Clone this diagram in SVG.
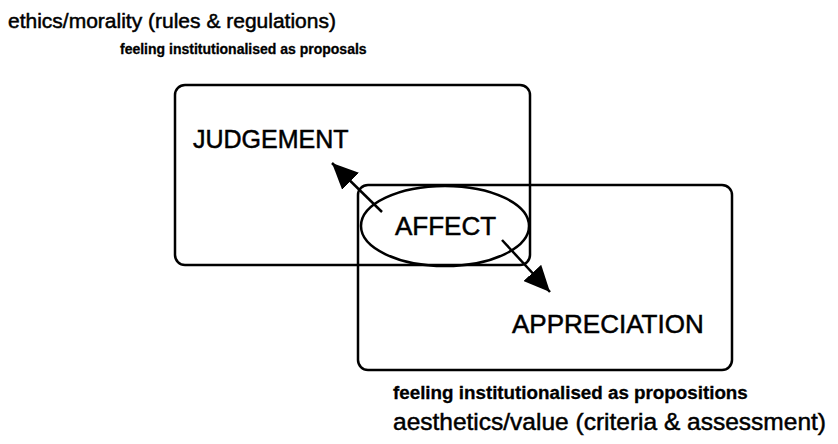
<svg xmlns="http://www.w3.org/2000/svg" width="838" height="444" viewBox="0 0 838 444">
<style>
.box{fill:none;stroke:#000;stroke-width:2.5}
.t{font-family:"Liberation Sans",Arial,sans-serif;fill:#000;stroke:#000;stroke-width:0.5}
.b{font-weight:bold;stroke-width:0.3}
.conn{stroke:#000;stroke-width:2.5;fill:none}
</style>
<defs>
<marker id="ah" markerUnits="userSpaceOnUse" markerWidth="28" markerHeight="24" refX="26" refY="12" orient="auto">
<path d="M0,0 L26,12 L0,24 z" fill="#000"/>
</marker>
</defs>
<rect width="838" height="444" fill="#fff"/>
<text class="t" x="8" y="28" font-size="21">ethics/morality (rules &amp; regulations)</text>
<text class="t b" x="120" y="54" font-size="14">feeling institutionalised as proposals</text>
<g id="judgement">
<rect class="box" x="175" y="85" width="355" height="180" rx="10"/>
<text class="t" x="193" y="148" font-size="25">JUDGEMENT</text>
</g>
<g id="appreciation">
<rect class="box" x="358" y="185" width="374" height="185" rx="10"/>
<text class="t" x="512" y="333" font-size="26">APPRECIATION</text>
</g>
<g id="affect">
<ellipse class="box" cx="445" cy="226" rx="84" ry="40"/>
<text class="t" x="395" y="235" font-size="26">AFFECT</text>
</g>
<g id="connectors">
<line class="conn" x1="382" y1="212" x2="332" y2="163" marker-end="url(#ah)"/>
<line class="conn" x1="502" y1="240" x2="550" y2="292" marker-end="url(#ah)"/>
</g>
<text class="t b" x="393" y="399" font-size="18.8">feeling institutionalised as propositions</text>
<text class="t" x="393" y="430" font-size="24.5">aesthetics/value (criteria &amp; assessment)</text>
</svg>
